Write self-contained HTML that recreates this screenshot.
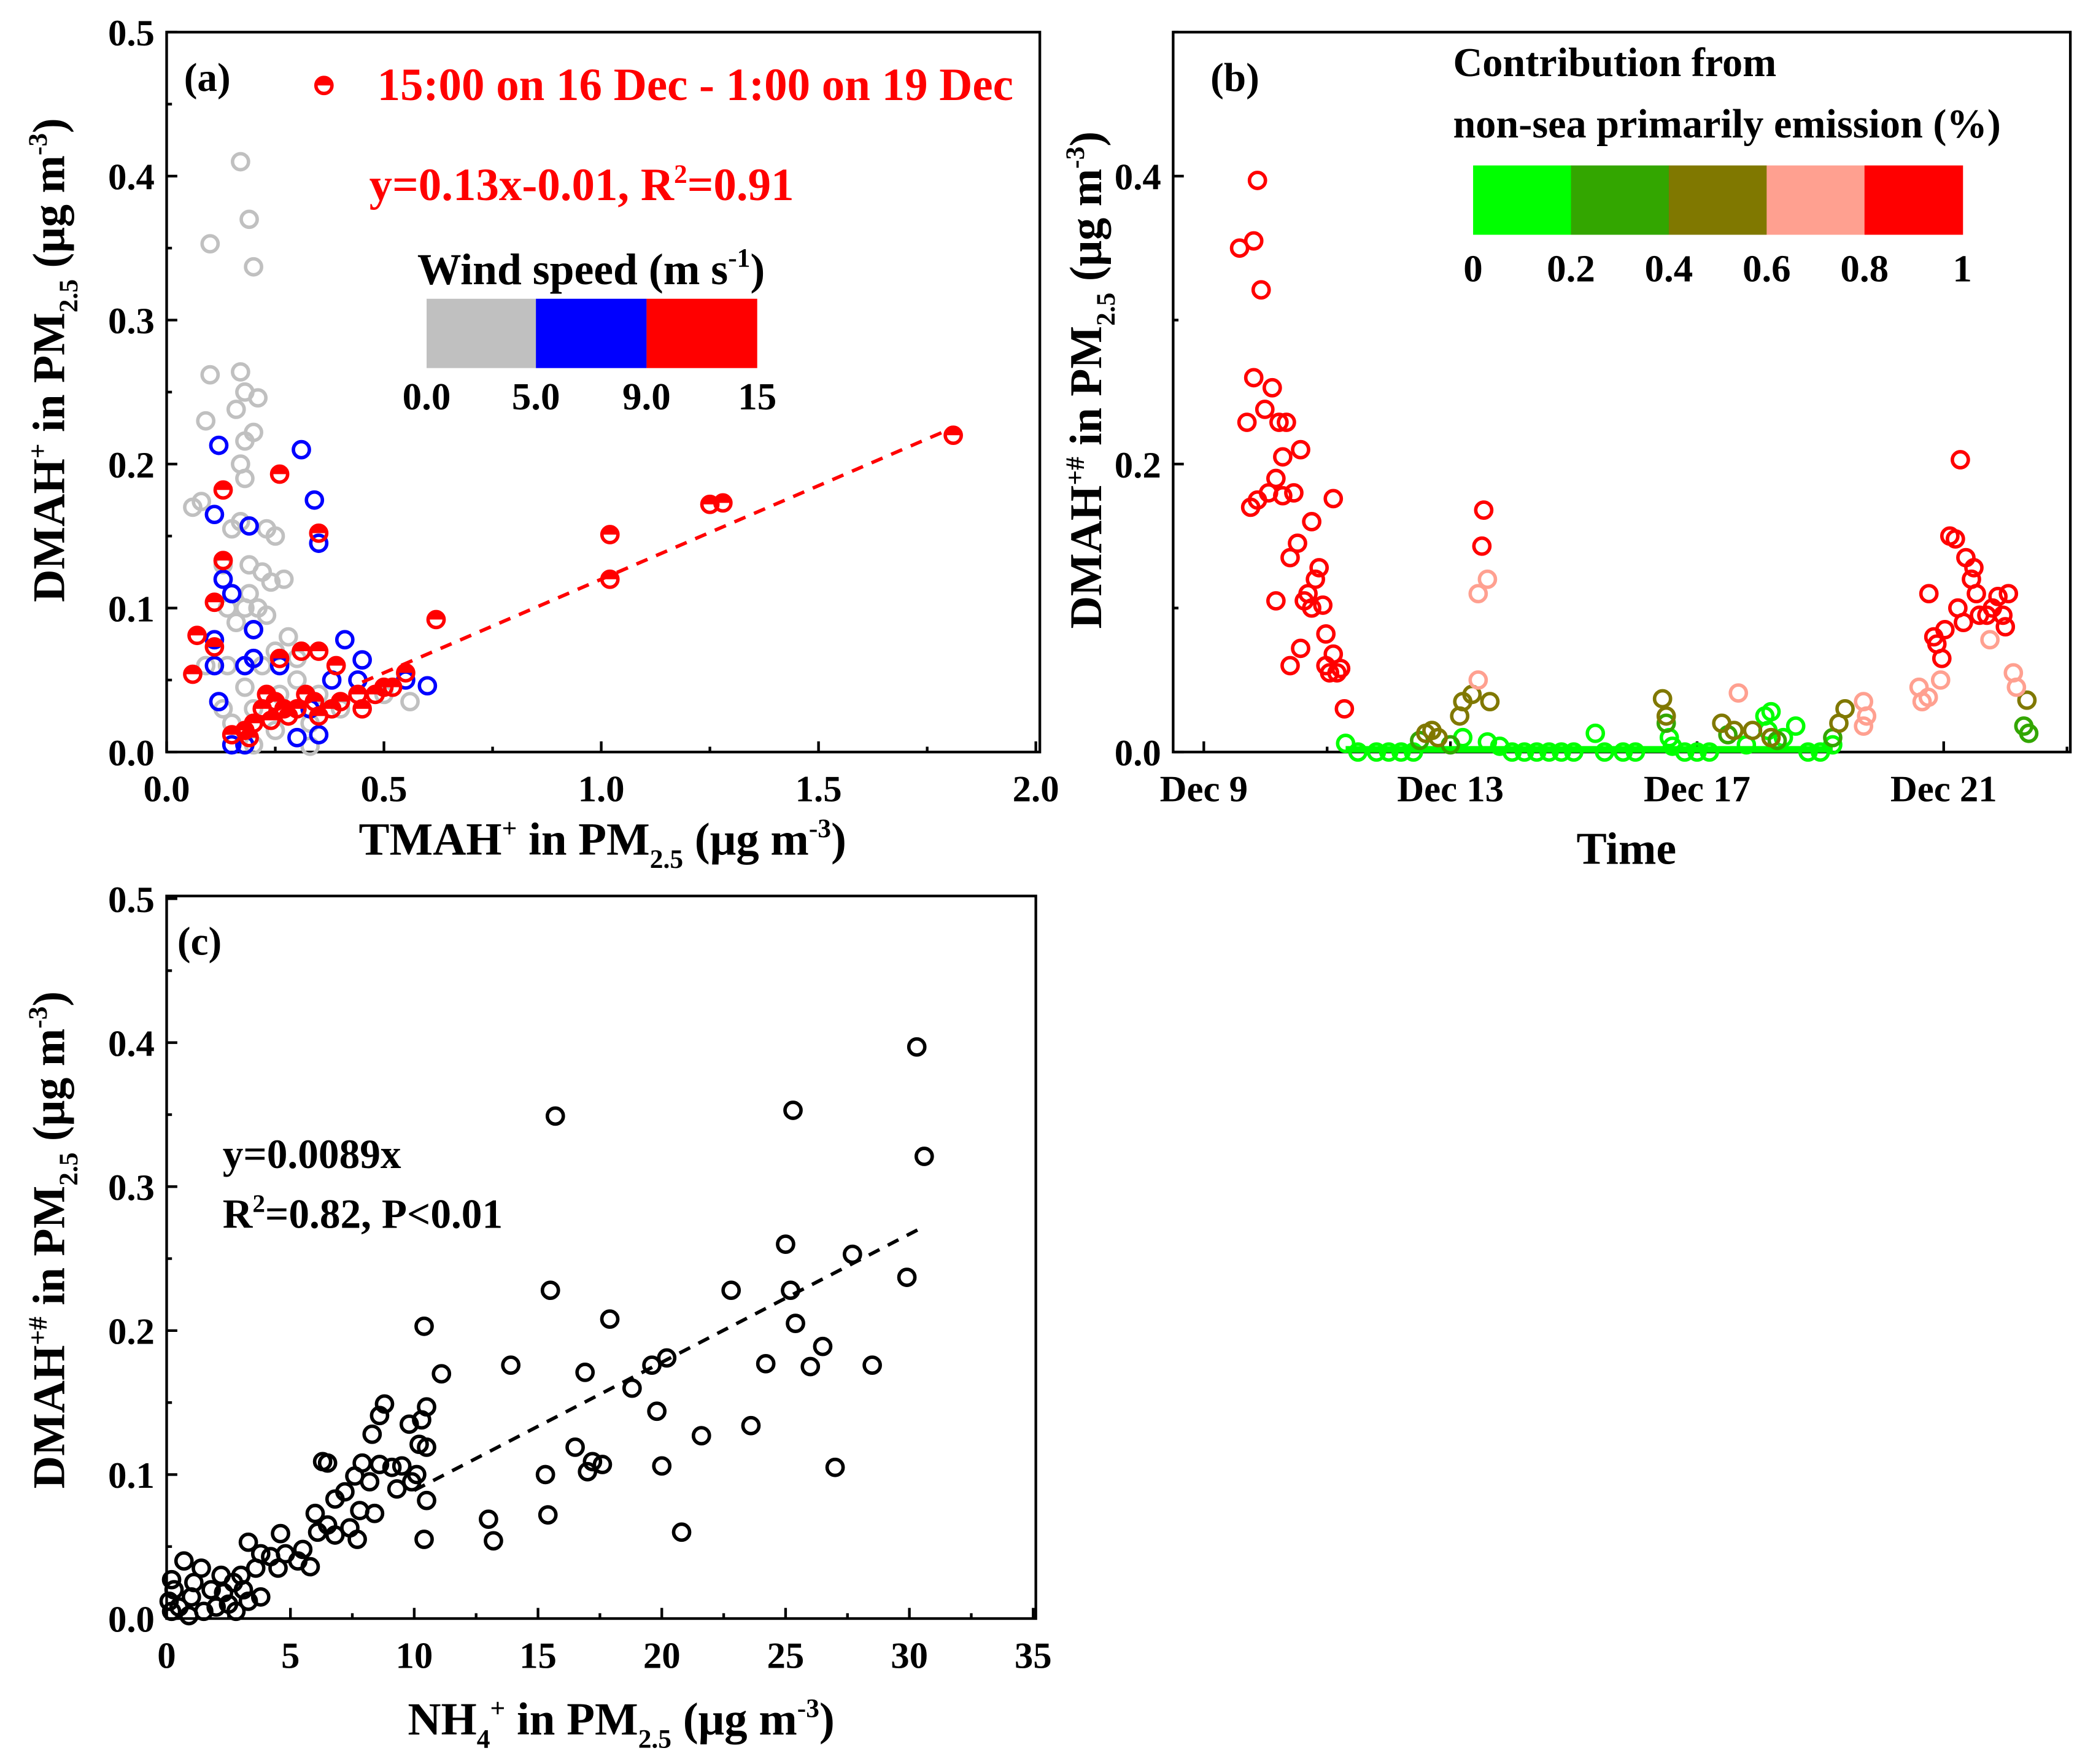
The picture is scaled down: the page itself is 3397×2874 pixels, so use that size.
<!DOCTYPE html>
<html><head><meta charset="utf-8"><style>
html,body{margin:0;padding:0;background:#fff}
svg{display:block}
text{font-family:"Liberation Serif",serif;font-weight:bold}
</style></head><body>
<svg id="fig" width="3397" height="2874" viewBox="0 0 1564 1323" xmlns="http://www.w3.org/2000/svg">
<rect width="1564" height="1323" fill="#fff"/>
<g id="pa"></g>
<g id="pb"></g>
<g id="pc"></g>
</svg>
<script>
// ---------- Panel (a) data ----------
const aGray=[[0.17,0.41],[0.19,0.37],[0.1,0.353],[0.2,0.337],[0.1,0.262],[0.17,0.264],[0.18,0.25],[0.21,0.246],[0.16,0.238],[0.09,0.23],[0.2,0.222],[0.18,0.216],[0.17,0.2],[0.06,0.17],[0.08,0.174],[0.18,0.19],[0.15,0.155],[0.17,0.16],[0.23,0.155],[0.25,0.15],[0.13,0.13],[0.19,0.13],[0.22,0.125],[0.24,0.118],[0.27,0.12],[0.15,0.11],[0.18,0.1],[0.21,0.1],[0.16,0.09],[0.2,0.085],[0.28,0.08],[0.25,0.07],[0.14,0.06],[0.22,0.06],[0.3,0.05],[0.18,0.045],[0.26,0.04],[0.35,0.04],[0.2,0.03],[0.3,0.03],[0.4,0.03],[0.15,0.02],[0.25,0.015],[0.33,0.02],[0.5,0.04],[0.56,0.035],[0.2,0.005],[0.33,0.004],[0.13,0.03],[0.09,0.06],[0.3,0.065],[0.23,0.095],[0.19,0.11],[0.14,0.1]];
const aBlue=[[0.12,0.213],[0.31,0.21],[0.34,0.175],[0.35,0.145],[0.11,0.165],[0.19,0.157],[0.13,0.12],[0.15,0.11],[0.2,0.085],[0.18,0.06],[0.11,0.06],[0.41,0.078],[0.45,0.064],[0.44,0.05],[0.55,0.05],[0.6,0.046],[0.33,0.03],[0.35,0.012],[0.3,0.01],[0.18,0.005],[0.15,0.005],[0.12,0.035],[0.38,0.05],[0.26,0.06],[0.2,0.065],[0.11,0.078]];
const aRed=[[0.13,0.182],[0.26,0.193],[0.35,0.152],[0.13,0.133],[0.11,0.104],[0.07,0.081],[0.11,0.073],[0.06,0.054],[0.26,0.065],[0.35,0.07],[0.39,0.06],[0.44,0.04],[0.5,0.045],[0.2,0.02],[0.22,0.03],[0.25,0.035],[0.3,0.03],[0.32,0.04],[0.35,0.025],[0.4,0.035],[0.45,0.03],[0.48,0.04],[0.52,0.045],[0.62,0.092],[1.02,0.12],[1.02,0.151],[1.25,0.172],[1.28,0.173],[1.81,0.22],[0.18,0.015],[0.23,0.04],[0.28,0.025],[0.19,0.01],[0.15,0.012],[0.38,0.03],[0.55,0.055],[0.31,0.07],[0.24,0.022],[0.27,0.03],[0.34,0.035]];
const aXTicks=["0.0","0.5","1.0","1.5","2.0"];
const aYTicks=["0.0","0.1","0.2","0.3","0.4","0.5"];
const aFit=[0.13,-0.01];
// ---------- Panel (b) data ----------
const bRed=[[0.58,0.35],[0.81,0.355],[0.87,0.397],[0.93,0.321],[0.70,0.229],[0.81,0.26],[0.99,0.238],[1.11,0.253],[1.22,0.229],[1.34,0.229],[0.76,0.17],[0.87,0.175],[1.05,0.18],[1.17,0.19],[1.28,0.205],[1.46,0.18],[1.57,0.21],[1.17,0.105],[1.4,0.135],[1.52,0.145],[1.69,0.11],[1.81,0.12],[1.87,0.128],[1.75,0.1],[1.63,0.105],[1.93,0.102],[1.28,0.178],[1.75,0.16],[1.98,0.082],[2.1,0.176],[1.4,0.06],[1.57,0.072],[1.98,0.06],[2.04,0.055],[2.1,0.068],[2.16,0.055],[2.22,0.058],[2.28,0.03],[4.54,0.168],[4.51,0.143],[11.76,0.11],[11.84,0.08],[11.89,0.075],[11.97,0.065],[12.02,0.085],[12.1,0.15],[12.19,0.148],[12.27,0.203],[12.23,0.1],[12.36,0.135],[12.45,0.12],[12.49,0.128],[12.53,0.11],[12.58,0.095],[12.7,0.095],[12.79,0.1],[12.88,0.108],[12.96,0.095],[13.05,0.11],[13.0,0.087],[12.32,0.09]];
const bPink=[[4.45,0.05],[4.45,0.11],[4.6,0.12],[8.67,0.041],[10.7,0.035],[10.75,0.025],[10.7,0.018],[11.6,0.045],[11.65,0.035],[11.75,0.038],[11.95,0.05],[12.75,0.078],[13.13,0.055],[13.18,0.045]];
const bOlive=[[4.2,0.035],[4.35,0.04],[3.8,0.01],[3.7,0.015],[3.6,0.013],[4.15,0.025],[4.64,0.035],[7.44,0.037],[7.5,0.025],[8.4,0.02],[8.6,0.015],[8.9,0.015],[9.2,0.01],[10.3,0.02],[10.4,0.03],[13.35,0.036]];
const bDGreen=[[3.5,0.008],[4.0,0.005],[7.5,0.02],[8.5,0.012],[9.3,0.008],[10.2,0.01],[13.3,0.018],[13.38,0.013]];
const bGreen=[[2.3,0.006],[2.5,0],[2.8,0],[3.0,0],[3.2,0],[3.4,0],[4.2,0.01],[4.6,0.007],[4.8,0.004],[5.0,0],[5.2,0],[5.4,0],[5.6,0],[5.8,0],[6.0,0],[6.35,0.013],[6.5,0],[6.8,0],[7.0,0],[7.55,0.01],[7.6,0.004],[7.8,0],[8.0,0],[8.2,0],[8.8,0.005],[9.1,0.025],[9.15,0.015],[9.2,0.028],[9.4,0.01],[9.6,0.018],[9.8,0],[10.0,0],[10.2,0.005]];
const bXTicks=["Dec 9","Dec 13","Dec 17","Dec 21"];
const bXTickDays=[0,4,8,12];
const bYTicks=["0.0","0.2","0.4"];
const bColorLabels=["0","0.2","0.4","0.6","0.8","1"];
const bColors=["#00ff00","#33a600","#807800","#ffa090","#ff0000"];
// ---------- Panel (c) data ----------
const cPts=[[30.3,0.397],[25.3,0.353],[15.7,0.349],[30.6,0.321],[25,0.26],[27.7,0.253],[22.8,0.228],[15.5,0.228],[25.2,0.228],[29.9,0.237],[17.9,0.208],[25.4,0.205],[10.4,0.203],[19.6,0.176],[20.2,0.181],[24.2,0.177],[26,0.175],[26.5,0.189],[28.5,0.176],[13.9,0.176],[16.9,0.171],[11.1,0.17],[18.8,0.16],[8.8,0.149],[8.6,0.141],[10.5,0.147],[9.8,0.135],[10.3,0.138],[19.8,0.144],[23.6,0.134],[21.6,0.127],[8.3,0.128],[16.5,0.119],[10.5,0.119],[10.2,0.121],[17.6,0.107],[17.2,0.109],[17,0.102],[20,0.106],[27,0.105],[15.3,0.1],[7.9,0.108],[8.6,0.107],[9.1,0.105],[9.5,0.106],[10.1,0.1],[6.3,0.109],[6.5,0.108],[7.6,0.099],[8.2,0.095],[9.3,0.09],[9.9,0.095],[7.2,0.088],[6.8,0.083],[7.8,0.075],[8.4,0.073],[10.5,0.082],[6,0.073],[6.5,0.065],[13,0.069],[15.4,0.072],[6.8,0.058],[7.4,0.063],[7.7,0.055],[10.4,0.055],[13.2,0.054],[20.8,0.06],[6.1,0.06],[5.5,0.048],[4.6,0.059],[3.3,0.053],[4.8,0.045],[5.3,0.04],[5.8,0.036],[4.2,0.043],[3.8,0.045],[3.6,0.035],[4.5,0.035],[3.0,0.03],[2.7,0.025],[0.7,0.04],[1.4,0.035],[0.2,0.027],[0.3,0.02],[1.0,0.015],[1.8,0.02],[2.3,0.018],[2.5,0.01],[3.3,0.012],[3.8,0.015],[2.8,0.005],[1.5,0.005],[0.5,0.008],[0.2,0.005],[0.9,0.002],[2,0.008],[1.1,0.025],[2.2,0.03],[3.1,0.02],[0.1,0.012]];
const cXTicks=["0","5","10","15","20","25","30","35"];
const cYTicks=["0.0","0.1","0.2","0.3","0.4","0.5"];
const cSlope=0.0089;

const NS="http://www.w3.org/2000/svg";
const TF=28;
function mk(parent,tag,attrs,txt){const e=document.createElementNS(NS,tag);for(const k in attrs)e.setAttribute(k,attrs[k]);if(txt!==undefined)e.innerHTML=txt;parent.appendChild(e);return e;}

function frame(g,x0,y0,x1,y1){
  const r=mk(g,'rect',{x:x0,y:y0,width:x1-x0,height:y1-y0,fill:'none',stroke:'#000','stroke-width':2});
  
  
}
function marker(g,cx,cy,color,name){
  const c=mk(g,'circle',{cx:cx,cy:cy,r:6,fill:'none',stroke:color,'stroke-width':2.6});
  
  
}
function halfMarker(g,cx,cy,name){
  const p=mk(g,'path',{d:`M${cx-6},${cy} A6,6 0 0 1 ${cx+6},${cy} Z`,fill:'#ff0000'});
  
  
  marker(g,cx,cy,'#ff0000',name);
}
const SUP=(s)=>`<tspan dy="-13" font-size="20">${s}</tspan>`;
const YT=(sup)=>`DMAH${SUP(sup)}<tspan dy="13"> in PM</tspan><tspan dy="10" font-size="20">2.5</tspan><tspan dy="-10"> (μg m</tspan>${SUP('-3')}<tspan dy="13">)</tspan>`;

// ===== Panel A =====
(function(){
  const g=document.getElementById('pa');
  const X0=125,X1=777,Y0=564,Y1=24;
  const sx=v=>X0+(v-0)/(2.0)*(X1-X0);
  const sy=v=>Y0+(v-0)/(0.5)*(Y1-Y0);
  frame(g,X0,Y1,780,Y0);
  aXTicks.forEach((t,i)=>{const v=parseFloat(t);const x=sx(v);
    const l=mk(g,'line',{x1:x,x2:x,y1:Y0,y2:Y0-8,stroke:'#000','stroke-width':2});
    
    const tx=mk(g,'text',{x:x,y:Y0+37,'font-size':TF,'text-anchor':'middle'},t);
    
    if(i<aXTicks.length-1){const m=mk(g,'line',{x1:sx(v+0.25),x2:sx(v+0.25),y1:Y0,y2:Y0-4,stroke:'#000','stroke-width':2});}
  });
  aYTicks.forEach((t,i)=>{const v=parseFloat(t);const y=sy(v);
    const l=mk(g,'line',{x1:X0,x2:X0+8,y1:y,y2:y,stroke:'#000','stroke-width':2});
    
    const tx=mk(g,'text',{x:X0-9,y:y+10,'font-size':TF,'text-anchor':'end'},t);
    
    if(i<aYTicks.length-1){const m=mk(g,'line',{x1:X0,x2:X0+4,y1:sy(v+0.05),y2:sy(v+0.05),stroke:'#000','stroke-width':2});}
  });
  aGray.forEach(p=>marker(g,sx(p[0]),sy(p[1]),'#c0c0c0','gray-point'));
  aBlue.forEach(p=>marker(g,sx(p[0]),sy(p[1]),'#0000ff','blue-point'));
  const fx0=0.45,fx1=1.8;
  const fl=mk(g,'line',{x1:sx(fx0),y1:sy(aFit[0]*fx0+aFit[1]),x2:sx(fx1),y2:sy(aFit[0]*fx1+aFit[1]),stroke:'#ff0000','stroke-width':2.6,'stroke-dasharray':'9,7'});
  
  aRed.forEach(p=>halfMarker(g,sx(p[0]),sy(p[1]),'red-point'));
  const t1=mk(g,'text',{x:138,y:68,'font-size':30},'(a)');
  halfMarker(g,243,64,'legend-marker');
  const t2=mk(g,'text',{x:283,y:75,'font-size':34.5,fill:'#ff0000'},'15:00 on 16 Dec - 1:00 on 19 Dec');
  const t3=mk(g,'text',{x:277,y:150,'font-size':34.5,fill:'#ff0000'},'y=0.13x-0.01, R<tspan dy="-13" font-size="20">2</tspan><tspan dy="13">=0.91</tspan>');
  const t4=mk(g,'text',{x:313,y:213,'font-size':33,'xml:space':'preserve'},'Wind speed  (m s<tspan dy="-13" font-size="20">-1</tspan><tspan dy="13">)</tspan>');
  [['#c0c0c0',320,402],['#0000ff',402,485],['#ff0000',485,568]].forEach(c=>{const r=mk(g,'rect',{x:c[1],y:224,width:c[2]-c[1],height:52,fill:c[0]});});
  [['0.0',320],['5.0',402],['9.0',485],['15',568]].forEach(c=>{const t=mk(g,'text',{x:c[1],y:307,'font-size':29,'text-anchor':'middle'},c[0]);});
  const xt=mk(g,'text',{x:452,y:641,'font-size':34.5,'text-anchor':'middle'},'TMAH'+SUP('+')+'<tspan dy="13"> in PM</tspan><tspan dy="10" font-size="20">2.5</tspan><tspan dy="-10"> (μg m</tspan>'+SUP('-3')+'<tspan dy="13">)</tspan>');
  
  const yt=mk(g,'text',{x:0,y:0,'font-size':34,'text-anchor':'middle',transform:'translate(48,270) rotate(-90)'},YT('+'));
  
})();

// ===== Panel B =====
(function(){
  const g=document.getElementById('pb');
  const X0=880,X1=1553,Y0=564,Y1=24;
  const D0=903,PD=46.25;
  const sx=d=>D0+d*PD;
  const sy=v=>Y0+v/0.5*(Y1-Y0);
  frame(g,X0,Y1,X1,Y0);
  bXTicks.forEach((t,i)=>{const x=sx(bXTickDays[i]);
    const l=mk(g,'line',{x1:x,x2:x,y1:Y0,y2:Y0-8,stroke:'#000','stroke-width':2});
    const m=mk(g,'line',{x1:sx(bXTickDays[i]+2),x2:sx(bXTickDays[i]+2),y1:Y0,y2:Y0-4,stroke:'#000','stroke-width':2});
    const tx=mk(g,'text',{x:x,y:Y0+37,'font-size':TF,'text-anchor':'middle'},t);
  });
  bYTicks.forEach(t=>{const v=parseFloat(t);const y=sy(v);
    const l=mk(g,'line',{x1:X0,x2:X0+8,y1:y,y2:y,stroke:'#000','stroke-width':2});
    const m=mk(g,'line',{x1:X0,x2:X0+4,y1:sy(v+0.1),y2:sy(v+0.1),stroke:'#000','stroke-width':2});
    const tx=mk(g,'text',{x:X0-9,y:y+10,'font-size':TF,'text-anchor':'end'},t);
  });
  const bl=mk(g,'line',{x1:sx(2.3),x2:sx(10.2),y1:sy(0)-2,y2:sy(0)-2,stroke:bColors[0],'stroke-width':5});
  
  bGreen.forEach(p=>marker(g,sx(p[0]),sy(p[1]),bColors[0],'point-0-0.2'));
  bDGreen.forEach(p=>marker(g,sx(p[0]),sy(p[1]),bColors[1],'point-0.2-0.4'));
  bOlive.forEach(p=>marker(g,sx(p[0]),sy(p[1]),bColors[2],'point-0.4-0.6'));
  bPink.forEach(p=>marker(g,sx(p[0]),sy(p[1]),bColors[3],'point-0.6-0.8'));
  bRed.forEach(p=>marker(g,sx(p[0]),sy(p[1]),bColors[4],'point-0.8-1'));
  const t1=mk(g,'text',{x:908,y:68,'font-size':30},'(b)');
  const t2=mk(g,'text',{x:1090,y:57,'font-size':30.5},'Contribution from');
  const t3=mk(g,'text',{x:1090,y:103,'font-size':30.5},'non-sea primarily emission (%)');
  const cw=(1472-1105)/5;
  bColors.forEach((c,i)=>{const r=mk(g,'rect',{x:1105+i*cw,y:124,width:cw+0.5,height:52,fill:c});});
  bColorLabels.forEach((t,i)=>{const tx=mk(g,'text',{x:1105+i*cw,y:211,'font-size':29,'text-anchor':'middle'},t);});
  const xt=mk(g,'text',{x:1220,y:648,'font-size':34,'text-anchor':'middle'},'Time');
  const yt=mk(g,'text',{x:0,y:0,'font-size':34,'text-anchor':'middle',transform:'translate(826,285) rotate(-90)'},YT('+#'));
  
})();

// ===== Panel C =====
(function(){
  const g=document.getElementById('pc');
  const X0=125,X1=775,Y0=1214,Y1=674;
  const sx=v=>X0+v/35*(X1-X0);
  const sy=v=>Y0+v/0.5*(Y1-Y0);
  frame(g,X0,672,777,Y0);
  cXTicks.forEach((t,i)=>{const v=parseFloat(t);const x=sx(v);
    const l=mk(g,'line',{x1:x,x2:x,y1:Y0,y2:Y0-8,stroke:'#000','stroke-width':2});
    if(i<cXTicks.length-1){const m=mk(g,'line',{x1:sx(v+2.5),x2:sx(v+2.5),y1:Y0,y2:Y0-4,stroke:'#000','stroke-width':2});}
    const tx=mk(g,'text',{x:x,y:Y0+37,'font-size':TF,'text-anchor':'middle'},t);
  });
  cYTicks.forEach((t,i)=>{const v=parseFloat(t);const y=sy(v);
    const l=mk(g,'line',{x1:X0,x2:X0+8,y1:y,y2:y,stroke:'#000','stroke-width':2});
    if(i<cYTicks.length-1){const m=mk(g,'line',{x1:X0,x2:X0+4,y1:sy(v+0.05),y2:sy(v+0.05),stroke:'#000','stroke-width':2});}
    const tx=mk(g,'text',{x:X0-9,y:y+10,'font-size':TF,'text-anchor':'end'},t);
  });
  const fl=mk(g,'line',{x1:sx(10),y1:sy(cSlope*10),x2:sx(30.5),y2:sy(cSlope*30.5),stroke:'#000','stroke-width':2.6,'stroke-dasharray':'9,7'});
  
  cPts.forEach(p=>marker(g,sx(p[0]),sy(p[1]),'#000','point'));
  const t1=mk(g,'text',{x:133,y:716,'font-size':30},'(c)');
  const t2=mk(g,'text',{x:167,y:876,'font-size':31},'y=0.0089x');
  const t3=mk(g,'text',{x:167,y:921,'font-size':31},'R<tspan dy="-12" font-size="19">2</tspan><tspan dy="12">=0.82, P&lt;0.01</tspan>');
  const xt=mk(g,'text',{x:466,y:1301,'font-size':34.5,'text-anchor':'middle'},'NH<tspan dy="10" font-size="20">4</tspan><tspan dy="-23" font-size="20">+</tspan><tspan dy="13"> in PM</tspan><tspan dy="10" font-size="20">2.5</tspan><tspan dy="-10"> (μg m</tspan>'+SUP('-3')+'<tspan dy="13">)</tspan>');
  
  const yt=mk(g,'text',{x:0,y:0,'font-size':34,'text-anchor':'middle',transform:'translate(48,930) rotate(-90)'},YT('+#'));
  
})();
</script>
</body></html>
